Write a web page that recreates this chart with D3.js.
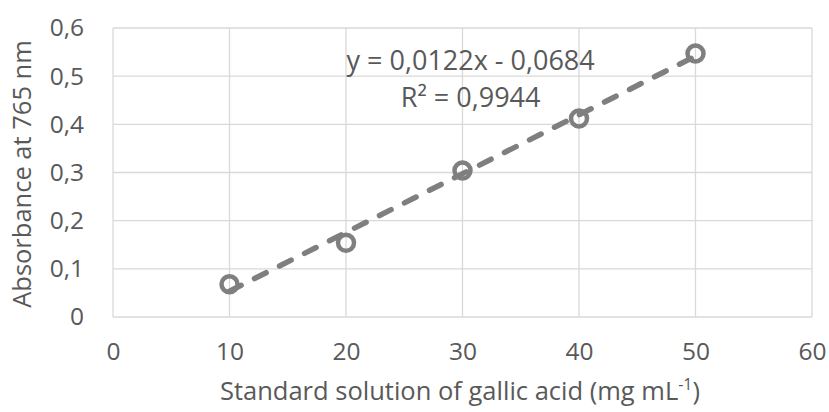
<!DOCTYPE html>
<html>
<head>
<meta charset="utf-8">
<script src="https://cdn.jsdelivr.net/npm/d3@7"></script>
<style>
  body { margin: 0; background: #fff; }
  text { font-family: "Open Sans", sans-serif; fill: #595959; }
</style>
</head>
<body>
<svg id="chart" width="829" height="412"></svg>
<script>
const concentration = [10, 20, 30, 40, 50];
const absorbance = [0.068, 0.154, 0.304, 0.412, 0.547];
const xTicks = [0, 10, 20, 30, 40, 50, 60];
const yTicks = [0, 0.1, 0.2, 0.3, 0.4, 0.5, 0.6];
const slope = 0.0122, intercept = -0.0684;
const equationLines = ["y = 0,0122x - 0,0684", "R² = 0,9944"];

const svg = d3.select("#chart"),
  margin = { top: 28, right: 17, bottom: 95, left: 113 },
  width = +svg.attr("width") - margin.left - margin.right,
  height = +svg.attr("height") - margin.top - margin.bottom,
  g = svg.append("g").attr("transform", "translate(" + margin.left + "," + margin.top + ")");

const x = d3.scaleLinear().domain([0, 60]).range([0, width]);
const y = d3.scaleLinear().domain([0, 0.6]).range([height, 0]);
const comma = (d) => d3.format(".1~f")(d).replace(".", ",");

// gridlines
g.append("g")
  .selectAll("line.h")
  .data(yTicks)
  .enter()
  .append("line")
  .attr("x1", 0).attr("x2", width)
  .attr("y1", (d) => y(d)).attr("y2", (d) => y(d))
  .attr("stroke", "#d9d9d9").attr("stroke-width", 1.3);
g.append("g")
  .selectAll("line.v")
  .data(xTicks)
  .enter()
  .append("line")
  .attr("y1", 0).attr("y2", height)
  .attr("x1", (d) => x(d)).attr("x2", (d) => x(d))
  .attr("stroke", "#d9d9d9").attr("stroke-width", 1.3);

// axes (labels only)
const yAxis = g.append("g")
  .call(d3.axisLeft(y).tickValues(yTicks).tickSize(0).tickPadding(29).tickFormat(comma));
yAxis.select(".domain").remove();
yAxis.selectAll("text").style("font-size", "24.5px").attr("fill", "#595959");

const xAxis = g.append("g")
  .attr("transform", "translate(0," + height + ")")
  .call(d3.axisBottom(x).tickValues(xTicks).tickSize(0).tickPadding(26).tickFormat(d3.format("d")));
xAxis.select(".domain").remove();
xAxis.selectAll("text").style("font-size", "24.5px").attr("fill", "#595959");

// trendline
const xr = d3.extent(concentration);
g.append("line")
  .attr("x1", x(xr[0])).attr("y1", y(slope * xr[0] + intercept))
  .attr("x2", x(xr[1])).attr("y2", y(slope * xr[1] + intercept))
  .attr("stroke", "#7f7f7f")
  .attr("stroke-width", 5.5)
  .attr("stroke-linecap", "round")
  .attr("stroke-dasharray", "13,15");

// markers
g.append("g")
  .selectAll("circle")
  .data(concentration)
  .enter()
  .append("circle")
  .attr("cx", (d) => x(d))
  .attr("cy", (d, i) => y(absorbance[i]))
  .attr("r", 8)
  .attr("fill", "none")
  .attr("stroke", "#7f7f7f")
  .attr("stroke-width", 4.5);

// equation
g.append("g")
  .selectAll("text")
  .data(equationLines)
  .enter()
  .append("text")
  .attr("x", x(30.7))
  .attr("y", (d, i) => 42 + i * 37)
  .attr("text-anchor", "middle")
  .style("font-size", "27px")
  .text((d) => d);

// axis titles
const xt = svg.append("text")
  .attr("x", 460)
  .attr("y", 400)
  .attr("text-anchor", "middle")
  .style("font-size", "25.5px");
xt.append("tspan").text("Standard solution of gallic acid (mg mL");
xt.append("tspan").attr("dy", -10).style("font-size", "16px").text("-1");
xt.append("tspan").attr("dy", 10).text(")");

svg.append("text")
  .attr("transform", "translate(31," + 174 + ") rotate(-90)")
  .attr("text-anchor", "middle")
  .style("font-size", "25.5px")
  .text("Absorbance at 765 nm");
</script>
</body>
</html>
